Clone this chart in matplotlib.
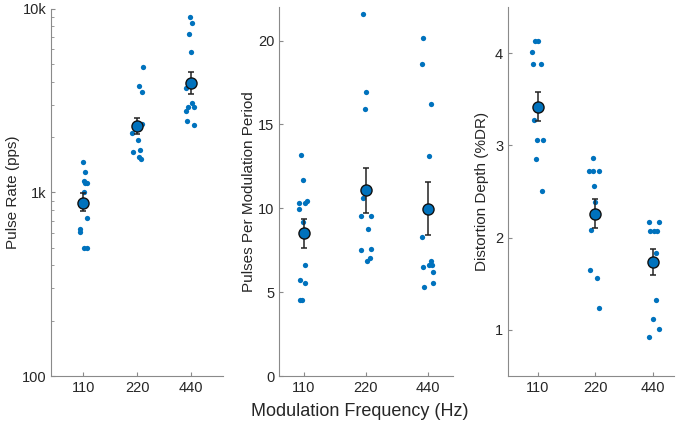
import matplotlib
matplotlib.use("Agg")
import matplotlib.pyplot as plt
import matplotlib.ticker as mticker
import numpy as np

plt.rcParams['font.family'] = ['Liberation Sans', 'DejaVu Sans']

categories = ["110", "220", "440"]

# Panel 1: Pulse Rate (pps)
rate_110 = [1456, 1285, 1150, 1130, 1120, 1007, 728, 630, 610, 495, 495]
rate_220 = [4810, 3776, 3530, 2354, 2110, 1932, 1663, 1692, 1549, 1512]
rate_440 = [9030, 8320, 7250, 5820, 3680, 3050, 2920, 2900, 2755, 2445, 2323]
rate_mean = [877, 2285, 3920]
rate_err_lo = [86, 210, 507]
rate_err_hi = [111, 261, 615]

# Panel 2: Pulses Per Modulation Period
ppm_110 = [13.2, 11.68, 10.42, 10.34, 10.34, 9.94, 9.2, 6.59, 5.71, 5.52, 4.52, 4.52]
ppm_220 = [21.59, 16.95, 15.93, 10.98, 10.6, 9.52, 9.52, 8.75, 7.6, 7.52, 7.02, 6.86]
ppm_440 = [20.18, 18.59, 16.19, 13.1, 8.27, 6.85, 6.61, 6.61, 6.51, 6.19, 5.54, 5.28]
ppm_mean = [8.51, 11.07, 9.98]
ppm_sem = [0.86, 1.33, 1.57]

# Panel 3: Distortion Depth (%DR)
dd_110 = [4.13, 4.13, 4.01, 3.88, 3.88, 3.28, 3.06, 3.06, 2.855, 2.51]
dd_220 = [2.863, 2.718, 2.718, 2.718, 2.555, 2.386, 2.086, 1.646, 1.559, 1.238]
dd_440 = [2.173, 2.173, 2.068, 2.068, 2.068, 1.834, 1.325, 1.119, 1.014, 0.927]
dd_mean = [3.42, 2.26, 1.74]
dd_sem = [0.16, 0.155, 0.14]

# horizontal jitter (layout, in category units)
jit_rate = [
    [-0.013, 0.037, 0.006, 0.068, 0.024, 0.013, 0.073, -0.06, -0.055, 0.006, 0.068],
    [0.105, 0.031, 0.092, 0.086, -0.092, 0.024, -0.079, 0.05, 0.037, 0.068],
    [-0.006, 0.018, -0.037, 0.0, -0.097, 0.024, -0.05, 0.068, -0.097, -0.068, 0.068],
]
jit_ppm = [
    [-0.053, -0.011, 0.043, -0.075, 0.025, -0.085, -0.011, 0.016, -0.059, 0.016, -0.069, -0.032],
    [-0.056, 0.0, -0.02, 0.0, -0.05, -0.077, 0.088, 0.029, 0.077, -0.083, 0.067, 0.013],
    [-0.075, -0.091, 0.043, 0.011, -0.091, 0.043, 0.016, 0.059, -0.085, 0.08, 0.08, -0.064],
]
jit_dd = [
    [-0.052, -0.005, -0.099, -0.082, 0.052, -0.07, -0.023, 0.092, -0.04, 0.064],
    [-0.035, -0.104, -0.047, 0.064, -0.017, 0.0, -0.07, -0.092, 0.023, 0.07],
    [-0.07, 0.11, -0.04, 0.017, 0.082, 0.064, 0.052, 0.0, 0.11, -0.064],
]

BLUE = '#0072BD'
TXT = '#262626'
SPINE = '#8a8a8a'

fig = plt.figure(figsize=(6.85, 4.29), dpi=100)
H = 429.0
W = 685.0

def mkax(left, right, top, bottom=376):
    return fig.add_axes([left / W, (H - bottom) / H, (right - left) / W, (bottom - top) / H])

ax1 = mkax(51, 223, 8.6)
ax2 = mkax(279, 453, 7)
ax3 = mkax(508, 674, 7)

def style(ax):
    for s in ['top', 'right']:
        ax.spines[s].set_visible(False)
    for s in ['left', 'bottom']:
        ax.spines[s].set_color(SPINE)
        ax.spines[s].set_linewidth(0.8)
    ax.tick_params(axis='both', which='both', direction='in', colors=SPINE,
                   labelcolor=TXT, labelsize=10.5)
    ax.tick_params(which='major', length=3)
    ax.tick_params(which='minor', length=2.2)
    ax.set_xticks([1, 2, 3])
    ax.set_xticklabels(categories)

def draw(ax, groups, jits, means, err):
    for i, (vals, jit) in enumerate(zip(groups, jits)):
        xs = (i + 1) + np.array(jit)
        ax.plot(xs, vals, 'o', ms=3.8, color=BLUE, mec='none', zorder=2)
    xpos = np.arange(1, len(means) + 1)
    ax.errorbar(xpos, means, yerr=err, fmt='none', ecolor='#222222',
                elinewidth=1.1, capsize=2.2, capthick=1.1, zorder=3)
    ax.plot(xpos, means, 'o', ms=8.0, mfc=BLUE, mec='#111111', mew=1.0, zorder=4)

draw(ax1, [rate_110, rate_220, rate_440], jit_rate, rate_mean,
     [rate_err_lo, rate_err_hi])
ax1.set_yscale('log')
ax1.set_ylim(100, 10000)
ax1.set_xlim(0.4, 3.6)
style(ax1)
ax1.yaxis.set_major_locator(mticker.FixedLocator([100, 1000, 10000]))
ax1.yaxis.set_major_formatter(mticker.FixedFormatter(['100', '1k', '10k']))
ax1.yaxis.set_minor_locator(mticker.LogLocator(base=10, subs=np.arange(2, 10)))
ax1.yaxis.set_minor_formatter(mticker.NullFormatter())
ax1.set_ylabel('Pulse Rate (pps)', fontsize=11, color=TXT, labelpad=1)

draw(ax2, [ppm_110, ppm_220, ppm_440], jit_ppm, ppm_mean, ppm_sem)
ax2.set_ylim(0, 22)
ax2.set_xlim(0.6, 3.4)
style(ax2)
ax2.set_yticks([0, 5, 10, 15, 20])
ax2.set_ylabel('Pulses Per Modulation Period', fontsize=11, color=TXT, labelpad=1)

draw(ax3, [dd_110, dd_220, dd_440], jit_dd, dd_mean, dd_sem)
ax3.set_ylim(0.5, 4.5)
ax3.set_xlim(0.48, 3.37)
style(ax3)
ax3.set_yticks([1, 2, 3, 4])
ax3.set_ylabel('Distortion Depth (%DR)', fontsize=11, color=TXT, labelpad=4)

fig.text(360 / W, 1 - 412 / H, 'Modulation Frequency (Hz)', ha='center', va='center',
         fontsize=13, color=TXT)

fig.savefig('out.png', dpi=100)
